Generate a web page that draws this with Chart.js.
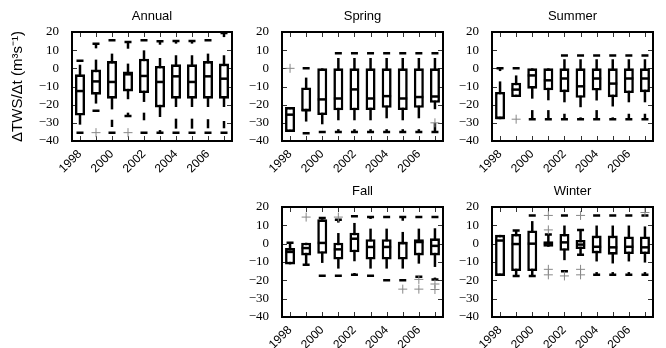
<!DOCTYPE html>
<html><head><meta charset="utf-8">
<script src="https://cdn.jsdelivr.net/npm/chart.js@4.4.1/dist/chart.umd.min.js"></script>
<style>
html,body{margin:0;padding:0;background:#fff;}
#wrap{position:relative;width:666px;height:348px;overflow:hidden;background:#fff;}
#wrap canvas{position:absolute;}
</style></head><body><div id="wrap"></div>
<script>
const years = ['1998','1999','2000','2001','2002','2003','2004','2005','2006','2007'];
const yMin = -40, yMax = 20, yStep = 10;
const yLabel = 'ΔTWS/Δt (m³s⁻¹)';
const panelTitles = ['Annual','Spring','Summer','Fall','Winter'];

// Annual
const annualQ1  = [-26, -14.5, -16.7, -12.7, -13.6, -21.5, -16.7, -16.7, -16.7, -16.7];
const annualMed = [-12.5, -7.2, -7.5, -3.3, -4.2, -7.5, -4.4, -7.5, -4.4, -5.7];
const annualQ3  = [-3.3, -0.7, 4, -1.7, 5.3, 1.3, 2.2, 2.2, 4, 2.6];
const annualLo  = [-31, -19.4, -22.6, -17, -18.5, -26.8, -21.3, -21.3, -21.3, -21.3];
const annualHi  = [2, 4.8, 8.1, 2.6, 9.9, 5.7, 7.2, 7.2, 8.1, 7.2];
const annualDash = [['1998',4.2],['1998',-35.4],['1999',13.5],['1999',-23.3],['2000',15.4],['2000',-35.4],['2001',14.5],['2001',-26.2],['2002',15.4],['2002',-35.4],['2003',14.9],['2003',-35.4],['2004',15],['2004',-35.4],['2005',15],['2005',-35.4],['2006',15.4],['2006',-35.4],['2007',19.4],['2007',-35.4]];
const annualStub = [['1999',11,13.5],['2000',-32.3,-28.3],['2001',10.8,14.5],['2001',-26.2,-24.4],['2002',-28.6,-24.4],['2003',13,14.9],['2003',-35.4,-34],['2004',13.6,15],['2004',-33.2,-27.7],['2005',13.6,15],['2005',-33.2,-27.7],['2006',-33,-28],['2007',17.2,19.4],['2007',-33,-29]];
const annualPlus = [['1999',-35.4],['2001',-35.4]];

// Spring
const springQ1  = [-35, -23.7, -25.7, -23.1, -23.1, -23, -21.7, -23, -21.7, -19];
const springMed = [-25.5, -23, -17.1, -16.6, -11.6, -16.6, -15.3, -16.6, -15.8, -15.5];
const springQ3  = [-21.3, -10.5, 0, 0, 0, 0, 0, 0, 0, 0];
const springLo  = [-35, -29.3, -30.8, -28.6, -28.6, -28.6, -27.5, -28.6, -27.5, -22.5];
const springHi  = [-21.3, -5.1, 0, 5.7, 5.7, 5.7, 5.7, 5.7, 5.7, 5.7];
const springDash = [['1999',0],['1999',-35.8],['2000',-35],['2001',8.3],['2001',-35],['2002',8.3],['2002',-35],['2003',8.3],['2003',-35],['2004',8.3],['2004',-35],['2005',8.3],['2005',-35],['2006',8.3],['2006',-35],['2007',8.3],['2007',-35]];
const springStub = [['2001',-35,-33.5],['2002',-35,-33.5],['2003',-35,-33.5],['2004',-35,-33.5],['2005',-35,-33.5],['2006',-35,-33.5],['2007',-35,-30]];
const springPlus = [['1998',0],['2007',-30]];

// Summer
const summerQ1  = [-28, -15.8, -11.2, -12.1, -13.1, -16.2, -12.2, -15.9, -13.6, -13.1];
const summerMed = [-27.3, -11.7, -3.9, -6.6, -5.6, -9.9, -5.6, -8.4, -5.6, -5.6];
const summerQ3  = [-13, -7.9, 0, 0, 0, 0, 0, 0, 0, 0];
const summerLo  = [-28, -15.8, -16.7, -17.6, -18.7, -21.4, -17.7, -21, -18.7, -18.7];
const summerHi  = [-7.2, -3.9, 0, 0, 5, 5, 5, 5, 5, 5];
const summerDash = [['1998',0],['1999',0],['2000',-28],['2001',-28],['2002',7],['2002',-28],['2003',7],['2003',-28],['2004',7],['2004',-28],['2005',7],['2005',-28],['2006',7],['2006',-28],['2007',7],['2007',-28]];
const summerStub = [['1998',-1.5,0],['2000',-28,-23],['2001',-28,-23],['2002',-28,-25],['2003',-28,-27],['2004',-28,-23],['2005',-28,-27],['2006',-28,-25],['2007',-28,-25]];
const summerPlus = [['1999',-28]];

// Fall
const fallQ1  = [-11.3, -6.4, -5.5, -8.7, -4.7, -8.7, -8.7, -8.7, -6.4, -6.4];
const fallMed = [-4.5, -2.4, 0.4, -3.1, 2.7, -1.8, -1.8, 0.3, 0.9, -1.2];
const fallQ3  = [-2.4, 0.5, 13.3, 0.5, 6, 2.4, 2.4, 1.1, 2.4, 2.9];
const fallLo  = [-11.3, -11.3, -10.5, -13.6, -9.6, -13.6, -13.6, -13.6, -10.9, -12.7];
const fallHi  = [0.9, 0.5, 13.3, 5.8, 11.3, 8.2, 8.2, 6.4, 8.2, 8.4];
const fallDash = [['1998',0.5],['1999',-11.5],['2000',14],['2000',-17.5],['2001',13],['2001',-17.5],['2002',14.9],['2002',-17],['2003',14.5],['2003',-17.5],['2004',14.5],['2004',-20],['2005',14.5],['2005',-20],['2006',14.5],['2006',-18],['2007',14.5],['2007',-19.5]];
const fallStub = [['2001',11.5,13],['2002',-17,-16],['2003',13.5,14.5],['2005',12.5,14.5],['2007',-19.5,-18.5]];
const fallPlus = [['1999',14.5],['2001',14.5],['2005',-24.8],['2006',-19.5],['2006',-24.8],['2007',-22],['2007',-25]];

// Winter
const winterQ1  = [-17.6, -14.9, -14.9, -1.7, -3.9, -2.9, -5.3, -6, -5.7, -5.7];
const winterMed = [1.7, -0.2, 0, 0, 0.7, -0.5, -1.7, -2, -1.7, -2];
const winterQ3  = [4.8, 5.3, 7.2, 1.3, 5.3, 2, 4.4, 4.4, 3.9, 3.9];
const winterLo  = [-17.6, -17.6, -17.6, -1.7, -9, -6, -9.7, -10.8, -9.7, -10.3];
const winterHi  = [4.8, 7.2, 12.3, 5, 9.9, 7.5, 9.9, 9.9, 9.9, 9.4];
const winterDash = [['1999',7.2],['1999',-17.6],['2000',15.4],['2000',-17.6],['2001',5],['2002',15.4],['2002',-15],['2003',7.5],['2003',-6],['2004',15.4],['2004',-17],['2005',15.4],['2005',-17],['2006',15.4],['2006',-17],['2007',15.4],['2007',-17]];
const winterStub = [['2004',-17,-15.5],['2005',-17,-15.5],['2006',-17,-15.5],['2007',-17,-15.5]];
const winterPlus = [['2001',15.4],['2001',7.5],['2001',-14],['2001',-17],['2002',-17.6],['2003',15.4],['2003',-14],['2003',-17],['2007',17]];

const TOP_H = 32, BOT_H = 40, RIGHT_P = 6;

const framePlugin = {
  id: 'frame',
  beforeDatasetsDraw(chart) {
    const {ctx, chartArea: a, scales: {x, y}} = chart;
    ctx.save();
    ctx.strokeStyle = '#333'; ctx.lineWidth = 1;
    ctx.beginPath();
    for (let i = 0; i < years.length; i++) {
      const px = Math.round(x.getPixelForValue(i)) + 0.5;
      ctx.moveTo(px, a.top); ctx.lineTo(px, a.top + 5);
      ctx.moveTo(px, a.bottom); ctx.lineTo(px, a.bottom - 5);
    }
    y.ticks.forEach(t => {
      const py = Math.round(y.getPixelForValue(t.value)) + 0.5;
      ctx.moveTo(a.left, py); ctx.lineTo(a.left + 5, py);
      ctx.moveTo(a.right, py); ctx.lineTo(a.right - 5, py);
    });
    ctx.stroke();
    ctx.restore();
  },
  afterDatasetsDraw(chart) {
    const {ctx, chartArea: a} = chart;
    ctx.save();
    ctx.strokeStyle = '#000'; ctx.lineWidth = 2;
    ctx.strokeRect(a.left, a.top, a.right - a.left, a.bottom - a.top);
    ctx.restore();
  }
};

function makeChart(title, rect, leftW, q1, med, q3, lo, hi, dash, stub, plus, withYLabel) {
  const cv = document.createElement('canvas');
  const w = rect.r - rect.l + leftW + RIGHT_P;
  const h = rect.b - rect.t + TOP_H + BOT_H;
  cv.width = w; cv.height = h;
  cv.style.width = w + 'px'; cv.style.height = h + 'px';
  cv.style.left = (rect.l - leftW) + 'px';
  cv.style.top = (rect.t - TOP_H) + 'px';
  document.getElementById('wrap').appendChild(cv);

  const boxData = years.map((yr, i) => [q1[i], q3[i]]);
  const whiskData = years.map((yr, i) => [lo[i], hi[i]]);
  const stubData = stub.map(s => ({x: s[0], y: [s[1], s[2]]}));
  const dashData = dash.map(d => ({x: d[0], y: d[1]}));
  const plusData = plus.map(p => ({x: p[0], y: p[1]}));
  const medData = years.map((yr, i) => ({x: yr, y: med[i]}));

  const yScale = {
    min: yMin, max: yMax,
    ticks: {
      stepSize: yStep, autoSkip: false, color: '#000', padding: 5,
      font: {family: 'Liberation Serif', size: 13},
      callback: v => (v < 0 ? '\u2212' + Math.abs(v) : String(v))
    },
    grid: {display: false}, border: {display: false},
    afterFit(s) { s.width = leftW; }
  };
  if (withYLabel) {
    yScale.title = {display: true, text: yLabel, color: '#000',
      font: {family: 'Liberation Sans', size: 15}, padding: {top: 9, bottom: 0}};
  }

  new Chart(cv, {
    type: 'bar',
    data: {
      labels: years,
      datasets: [
        {type: 'bar', data: whiskData, backgroundColor: '#000', borderWidth: 0,
         grouped: false, categoryPercentage: 1, barPercentage: 0.9, maxBarThickness: 2.5, order: 6},
        {type: 'bar', data: stubData, backgroundColor: '#000', borderWidth: 0,
         grouped: false, categoryPercentage: 1, barPercentage: 0.9, maxBarThickness: 2.5, order: 5},
        {type: 'bar', data: boxData, backgroundColor: '#fff', borderColor: '#000', borderWidth: 2.6,
         borderSkipped: false, grouped: false, categoryPercentage: 1, barPercentage: 0.9, maxBarThickness: 10, order: 4},
        {type: 'line', data: medData, showLine: false, pointStyle: 'line', pointRadius: 4.5,
         pointBorderWidth: 2.5, pointBorderColor: '#000', borderColor: '#000', order: 3},
        {type: 'line', data: dashData, showLine: false, pointStyle: 'line', pointRadius: 3.5,
         pointBorderWidth: 2.5, pointBorderColor: '#000', borderColor: '#000', order: 2},
        {type: 'line', data: plusData, showLine: false, pointStyle: 'cross', pointRadius: 4.5,
         pointBorderWidth: 1, pointBorderColor: '#888', borderColor: '#888', order: 1}
      ]
    },
    options: {
      responsive: false, animation: false, devicePixelRatio: 1,
      layout: {padding: {left: 0, right: RIGHT_P, top: 0, bottom: 0}},
      scales: {
        x: {
          ticks: {
            autoSkip: false, maxRotation: 45, minRotation: 45, color: '#000', padding: -2,
            font: {family: 'Liberation Sans', size: 12},
            callback: (v, i) => (i % 2 === 0 ? years[i] : '')
          },
          grid: {display: false}, border: {display: false},
          afterFit(s) { s.height = BOT_H; }
        },
        y: yScale
      },
      plugins: {
        legend: {display: false}, tooltip: {enabled: false},
        title: {display: true, fullSize: false, text: title, color: '#000',
          font: {family: 'Liberation Sans', size: 13, weight: 'normal', lineHeight: 1.2},
          padding: {top: 9, bottom: 7.4}}
      }
    },
    plugins: [framePlugin]
  });
}

makeChart(panelTitles[0], {l: 72, t: 32, r: 233, b: 141}, 72, annualQ1, annualMed, annualQ3, annualLo, annualHi, annualDash, annualStub, annualPlus, true);
makeChart(panelTitles[1], {l: 282, t: 32, r: 444, b: 141}, 46, springQ1, springMed, springQ3, springLo, springHi, springDash, springStub, springPlus, false);
makeChart(panelTitles[2], {l: 492, t: 32, r: 654, b: 141}, 46, summerQ1, summerMed, summerQ3, summerLo, summerHi, summerDash, summerStub, summerPlus, false);
makeChart(panelTitles[3], {l: 282, t: 207, r: 444, b: 317}, 46, fallQ1, fallMed, fallQ3, fallLo, fallHi, fallDash, fallStub, fallPlus, false);
makeChart(panelTitles[4], {l: 492, t: 207, r: 654, b: 317}, 46, winterQ1, winterMed, winterQ3, winterLo, winterHi, winterDash, winterStub, winterPlus, false);
</script></body></html>
